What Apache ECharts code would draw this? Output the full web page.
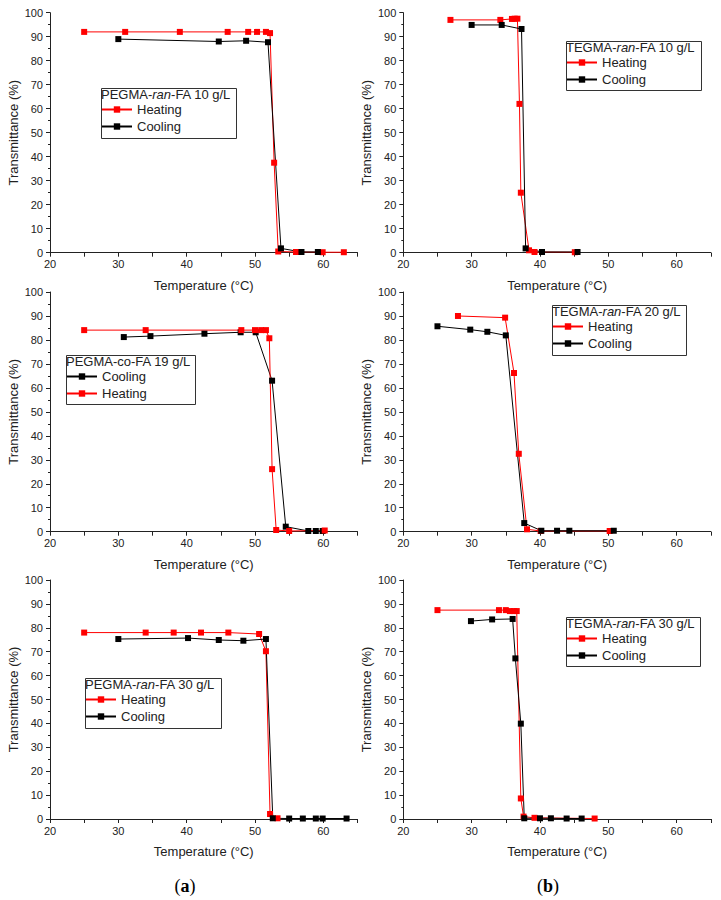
<!DOCTYPE html>
<html><head><meta charset="utf-8">
<script src="https://cdn.jsdelivr.net/npm/echarts@6/dist/echarts.min.js"></script>
<style>html,body{margin:0;padding:0;background:#fff}#c{width:721px;height:900px}</style>
</head><body><div id="c"></div>
<script>
// ---- data ----
const xLabelValues = [20, 30, 40, 50, 60];
const yLabelValues = [0, 10, 20, 30, 40, 50, 60, 70, 80, 90, 100];

const p1Heating = [[25,92],[31,92],[39,92],[46,92],[49,92],[50.3,92],[51.6,92],[52.2,91.5],[52.8,37.5],[53.4,0.5],[56,0.3],[59.9,0.2],[63,0.2]];
const p1Cooling = [[30,89],[44.7,88],[48.7,88.3],[51.9,87.7],[53.8,1.8],[56.8,0.3],[59.2,0.3]];

const p2Heating = [[26.9,97],[34.2,97],[35.9,97.4],[36.3,97.5],[36.7,97.5],[37.0,62],[37.2,25],[38.4,1],[39.2,0.3],[45.1,0.2]];
const p2Cooling = [[30,94.9],[34.4,94.9],[37.3,93.2],[37.9,1.8],[40.3,0.3],[45.5,0.3]];

const p3Cooling = [[30.8,81.2],[34.7,81.6],[42.6,82.6],[47.9,83.2],[50.1,83.2],[52.5,63],[54.5,2.1],[57.8,0.3],[58.9,0.3],[59.9,0.3]];
const p3Heating = [[25,84.1],[34,84.1],[48,84.1],[50,84.1],[50.9,84.1],[51.6,84.1],[52.1,80.7],[52.5,26.1],[53.1,0.7],[55,0.3],[60.2,0.5]];

const p4Heating = [[28,90],[34.9,89.3],[36.2,66.2],[36.9,32.5],[38.1,1],[40.1,0.3],[50.2,0.3]];
const p4Cooling = [[25,85.7],[29.8,84.3],[32.3,83.4],[35,81.9],[37.7,3.6],[40.2,0.4],[42.5,0.4],[44.3,0.4],[50.8,0.4]];

const p5Heating = [[25,78],[34,78],[38.1,78],[42.1,78],[46.1,78],[50.6,77.4],[51.6,70.2],[52.2,2.1],[53.3,0.3]];
const p5Cooling = [[30,75.3],[40.2,75.7],[44.7,74.9],[48.3,74.6],[51.6,75.3],[52.6,0.3],[55,0.2],[57,0.2],[58.9,0.2],[59.9,0.2],[63.4,0.2]];

const p6Heating = [[25,87.4],[34,87.4],[35,87.4],[35.6,87],[36.2,87],[36.6,87],[37.2,8.6],[37.6,1],[39.2,0.5],[48,0.2]];
const p6Cooling = [[29.9,82.8],[33,83.5],[36,83.7],[36.4,67.2],[37.2,39.9],[37.7,0.3],[40,0.3],[41.6,0.3],[43.9,0.2],[46.1,0.2]];

// legend titles: [before-italic, italic, after]
const titles = [
  ['PEGMA-', 'ran', '-FA 10 g/L'],
  ['TEGMA-', 'ran', '-FA 10 g/L'],
  ['PEGMA-co-FA 19 g/L', '', ''],
  ['TEGMA-', 'ran', '-FA 20 g/L'],
  ['PEGMA-', 'ran', '-FA 30 g/L'],
  ['TEGMA-', 'ran', '-FA 30 g/L']
];
const panelSeries = [
  [['Heating', p1Heating], ['Cooling', p1Cooling]],
  [['Heating', p2Heating], ['Cooling', p2Cooling]],
  [['Cooling', p3Cooling], ['Heating', p3Heating]],
  [['Heating', p4Heating], ['Cooling', p4Cooling]],
  [['Heating', p5Heating], ['Cooling', p5Cooling]],
  [['Heating', p6Heating], ['Cooling', p6Cooling]]
];
const captions = ['a', 'b'];

// ---- layout ----
const FONT = 'Liberation Sans, Arial, Helvetica, sans-serif';
const gridPos = [
  {left: 50, top: 12.7, width: 307.5, height: 240},
  {left: 403.3, top: 12.7, width: 307.5, height: 240},
  {left: 50, top: 292, width: 307.5, height: 239.7},
  {left: 403.3, top: 292, width: 307.5, height: 239.7},
  {left: 50, top: 580, width: 307.5, height: 239},
  {left: 403.3, top: 580, width: 307.5, height: 239}
];
const legendBoxes = [
  {x: 99, y: 86, w: 135, h: 50},
  {x: 564, y: 39, w: 135, h: 49},
  {x: 64, y: 353, w: 129, h: 49},
  {x: 550, y: 303, w: 134, h: 50},
  {x: 83, y: 676, w: 136, h: 50},
  {x: 564, y: 615, w: 134, h: 49}
];
const colors = {Heating: '#ff0000', Cooling: '#000000'};

const grid = [], xAxis = [], yAxis = [], series = [], legend = [], graphic = [];
gridPos.forEach((g, i) => {
  grid.push(Object.assign({containLabel: false}, g));
  xAxis.push({
    gridIndex: i, type: 'value', min: 20, max: 65, interval: 5,
    axisLine: {show: true, onZero: false, lineStyle: {color: '#222', width: 1}},
    axisTick: {show: true, length: 4, lineStyle: {color: '#222'}},
    axisLabel: {fontSize: 11, color: '#222', fontFamily: FONT, margin: 6,
      formatter: v => xLabelValues.includes(v) ? String(v) : ''},
    splitLine: {show: false},
    name: 'Temperature (°C)', nameLocation: 'middle', nameGap: 26,
    nameTextStyle: {fontSize: 13, color: '#222', fontFamily: FONT}
  });
  yAxis.push({
    gridIndex: i, type: 'value', min: 0, max: 100, interval: 10,
    axisLine: {show: true, onZero: false, lineStyle: {color: '#222', width: 1}},
    axisTick: {show: true, length: 4, lineStyle: {color: '#222'}},
    minorTick: {show: true, splitNumber: 2, length: 2, lineStyle: {color: '#222'}},
    axisLabel: {fontSize: 11, color: '#222', fontFamily: FONT, margin: 7,
      formatter: v => yLabelValues.includes(v) ? String(v) : ''},
    splitLine: {show: false},
    name: 'Transmittance (%)', nameLocation: 'middle', nameGap: 30,
    nameTextStyle: {fontSize: 13, color: '#222', fontFamily: FONT}
  });
  panelSeries[i].forEach(([name, data]) => {
    series.push({
      type: 'line', name, xAxisIndex: i, yAxisIndex: i, data,
      symbol: 'rect', symbolSize: 6, showSymbol: true,
      lineStyle: {color: colors[name], width: 1},
      itemStyle: {color: colors[name]},
      animation: false
    });
  });
  const b = legendBoxes[i];
  legend.push({
    left: b.x + 2, top: b.y + 16, orient: 'vertical',
    itemWidth: 30, itemHeight: 8, itemGap: 2, padding: 0,
    data: panelSeries[i].map(s => s[0]),
    selectedMode: false,
    textStyle: {fontSize: 13, color: '#222', fontFamily: FONT, lineHeight: 15}
  });
  graphic.push({
    type: 'rect', left: b.x, top: b.y, silent: true,
    shape: {width: b.w, height: b.h},
    style: {fill: 'none', stroke: '#333', lineWidth: 1}
  });
  const t = titles[i];
  graphic.push({
    type: 'text', left: b.x + 2, top: b.y + 2, silent: true,
    style: {
      text: '{n|' + t[0] + '}' + (t[1] ? '{i|' + t[1] + '}' : '') + (t[2] ? '{n|' + t[2] + '}' : ''),
      rich: {
        n: {fontSize: 13, fontFamily: FONT, fill: '#222'},
        i: {fontSize: 13, fontFamily: FONT, fontStyle: 'italic', fill: '#222'}
      },
      fontSize: 13, fontFamily: FONT, fill: '#222'
    }
  });
});
captions.forEach((c, k) => {
  graphic.push({
    type: 'text', x: [185, 548][k], y: 886, silent: true,
    style: {
      text: '{p|(}{b|' + c + '}{p|)}',
      rich: {
        p: {fontSize: 18, fontFamily: 'Liberation Serif, Times New Roman, serif', fill: '#000'},
        b: {fontSize: 18, fontFamily: 'Liberation Serif, Times New Roman, serif', fontWeight: 'bold', fill: '#000'}
      },
      align: 'center', verticalAlign: 'middle'
    }
  });
});

const chart = echarts.init(document.getElementById('c'), null, {renderer: 'svg', width: 721, height: 900});
chart.setOption({backgroundColor: '#fff', animation: false, grid, xAxis, yAxis, series, legend, graphic});
</script>
</body></html>
